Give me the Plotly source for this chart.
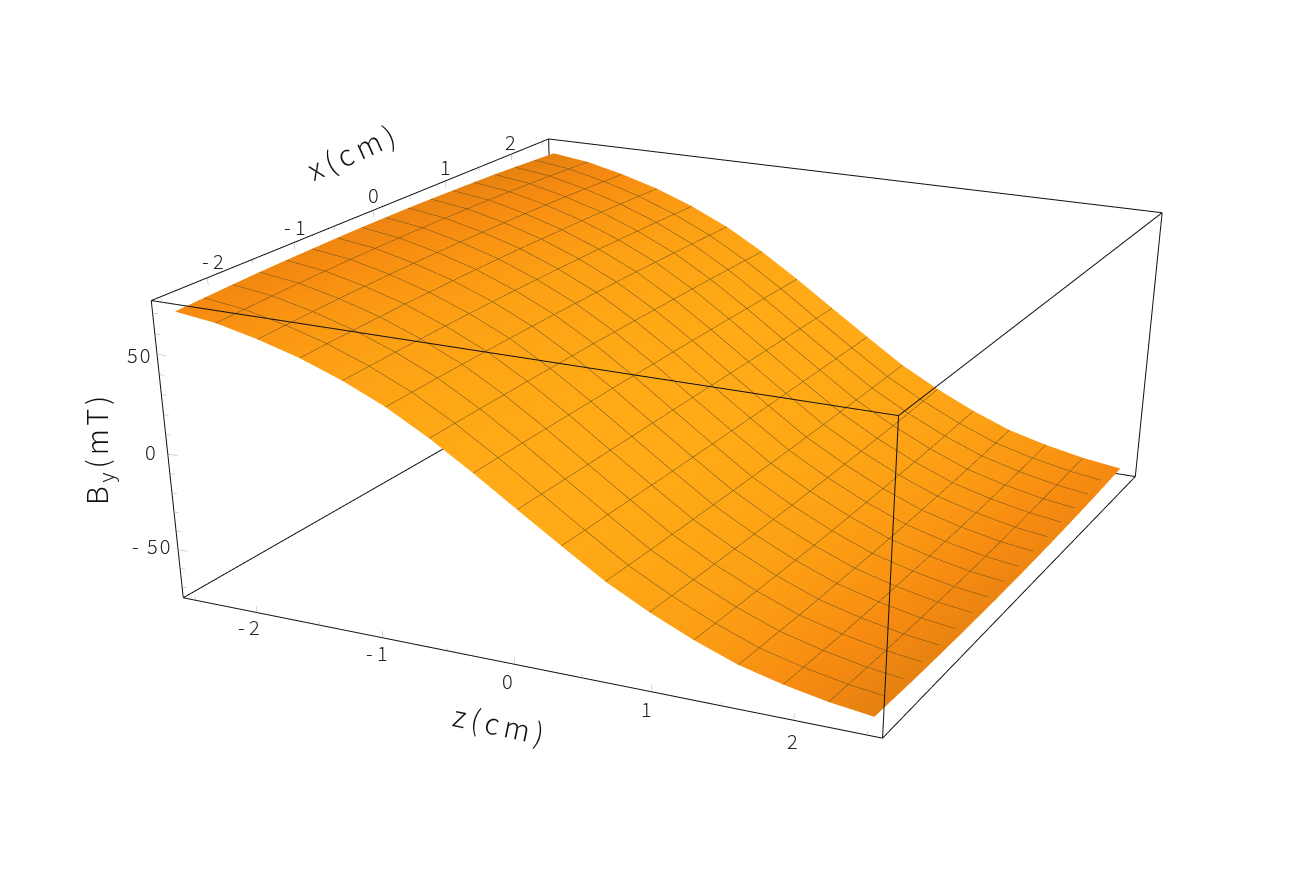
import numpy as np
import plotly.graph_objects as go

# grid of the surface, cm
z_cm = [-2.5, -2.1875, -1.875, -1.5625, -1.25, -0.9375, -0.625, -0.3125, 0, 0.3125, 0.625, 0.9375, 1.25, 1.5625, 1.875, 2.1875, 2.5]
x_cm = [-2.5, -2.1875, -1.875, -1.5625, -1.25, -0.9375, -0.625, -0.3125, 0, 0.3125, 0.625, 0.9375, 1.25, 1.5625, 1.875, 2.1875, 2.5]

# By (mT), one row per x value
by_x8 = [69.8, 67.2, 62.5, 56.6, 48.9, 39.5, 27.7, 14.3, 0, -14.1, -27.9, -39.2, -49.0, -57.2, -62.7, -67.0, -69.9]
by_x7 = [70.5, 67.9, 63.2, 57.2, 49.4, 39.9, 28.0, 14.5, 0, -14.3, -28.2, -39.6, -49.5, -57.8, -63.4, -67.7, -70.6]
by_x6 = [71.2, 68.6, 63.8, 57.7, 49.9, 40.3, 28.3, 14.6, 0, -14.4, -28.5, -40.0, -50.0, -58.3, -64.0, -68.4, -71.3]
by_x5 = [71.8, 69.1, 64.3, 58.2, 50.2, 40.6, 28.5, 14.7, 0, -14.5, -28.7, -40.3, -50.3, -58.8, -64.5, -68.9, -71.8]
by_x4 = [72.2, 69.5, 64.7, 58.6, 50.6, 40.9, 28.7, 14.8, 0, -14.6, -28.9, -40.6, -50.7, -59.2, -64.9, -69.3, -72.2]
by_x3 = [72.5, 69.9, 65.0, 58.8, 50.8, 41.1, 28.8, 14.9, 0, -14.7, -29.0, -40.8, -50.9, -59.4, -65.2, -69.7, -72.6]
by_x2 = [72.8, 70.1, 65.2, 59.0, 51.0, 41.2, 28.9, 15.0, 0, -14.8, -29.1, -40.9, -51.1, -59.6, -65.4, -69.9, -72.8]
by_x1 = [73.0, 70.2, 65.3, 59.2, 51.1, 41.3, 29.0, 15.0, 0, -14.8, -29.2, -41.0, -51.2, -59.8, -65.6, -70.1, -73.0]
by_x0 = [73.0, 70.3, 65.4, 59.2, 51.1, 41.3, 29.0, 15.0, 0, -14.8, -29.2, -41.0, -51.2, -59.8, -65.6, -70.1, -73.0]
by_rows = [by_x8, by_x7, by_x6, by_x5, by_x4, by_x3, by_x2, by_x1, by_x0,
           by_x1, by_x2, by_x3, by_x4, by_x5, by_x6, by_x7, by_x8]

z_ticks = [-2, -1, 0, 1, 2]
x_ticks = [-2, -1, 0, 1, 2]
by_ticks = [-50, 0, 50]
z_minor = [-2.5, -1.5, -0.5, 0.5, 1.5, 2.5]
x_minor = [-2.5, -1.5, -0.5, 0.5, 1.5, 2.5]
by_minor = [-70, -60, -40, -30, -20, -10, 10, 20, 30, 40, 60, 70]
tick_text = {-2: '- 2', -1: '- 1', 0: '0', 1: '1', 2: '2',
             -50: '<span style="letter-spacing:2px">- 50</span>', 50: '<span style="letter-spacing:2px">50</span>'}

XR, ZR = 2.6, 76
FIG_W, FIG_H = 1500, 2071
FONT = 'Noto Sans CJK JP'
TICK_FONT = dict(family=FONT, size=20, color='#222', weight=300)
TITLE_FONT = dict(family=FONT, size=29, color='#111', weight=300)
MESH = 'rgb(105,80,25)'

# shading, brighter on the slope and darker on the flat ends
u = np.array(z_cm) / 2.5
v = np.array(x_cm) / 2.5
uu, vv = np.meshgrid(u, v)
shade = 1 - 0.55 * uu**2 - 0.3 * uu**2 * (0.5 - 0.5 * np.sign(uu) * vv)

fig = go.Figure()
fig.add_trace(go.Surface(
    x=z_cm, y=x_cm, z=by_rows, surfacecolor=shade, cmin=0, cmax=1, showscale=False,
    colorscale=[[0, '#DC7C10'], [0.5, '#F78B11'], [1, '#FFAA16']],
    lighting=dict(ambient=1, diffuse=0, specular=0, fresnel=0, roughness=1),
    contours=dict(
        x=dict(show=True, start=-2.5, end=2.5, size=0.3125, color=MESH, width=1),
        y=dict(show=True, start=-2.5, end=2.5, size=0.3125, color=MESH, width=1),
        z=dict(show=False)),
    hoverinfo='skip'))

# bounding box
box_x, box_y, box_z = [], [], []
for a, b in [((-1,-1,1),(1,-1,1)),((1,-1,1),(1,1,1)),((1,1,1),(-1,1,1)),((-1,1,1),(-1,-1,1)),
             ((-1,-1,-1),(1,-1,-1)),((1,-1,-1),(1,1,-1)),((1,1,-1),(-1,1,-1)),((-1,1,-1),(-1,-1,-1)),
             ((-1,-1,-1),(-1,-1,1)),((1,-1,-1),(1,-1,1)),((1,1,-1),(1,1,1)),((-1,1,-1),(-1,1,1))]:
    box_x += [a[0]*XR, b[0]*XR, None]
    box_y += [a[1]*XR, b[1]*XR, None]
    box_z += [a[2]*ZR, b[2]*ZR, None]
fig.add_trace(go.Scatter3d(x=box_x, y=box_y, z=box_z, mode='lines', line=dict(color='#111', width=2), hoverinfo='skip'))

# tick marks
tx, ty, tz = [], [], []
for t, size in [(t, 3.6) for t in z_ticks] + [(t, 2.0) for t in z_minor]:
    tx += [t, t, None]; ty += [-XR, -XR, None]; tz += [-ZR, -ZR + size, None]
for t, size in [(t, 3.6) for t in x_ticks] + [(t, 2.0) for t in x_minor]:
    tx += [-XR, -XR, None]; ty += [t, t, None]; tz += [ZR, ZR - size, None]
for t, size in [(t, 0.075) for t in by_ticks] + [(t, 0.04) for t in by_minor]:
    tx += [-XR, -XR + size, None]; ty += [-XR, -XR, None]; tz += [t, t, None]
fig.add_trace(go.Scatter3d(x=tx, y=ty, z=tz, mode='lines', line=dict(color='#aaa', width=1), hoverinfo='skip'))

# label offsets in pixels from the axis edge
z_shift = {-2: (-8, -14), -1: (-6, -15), 0: (-7, -16), 1: (-5, -17), 2: (-1, -20)}
x_shift = {-2: (5, 17), -1: (1, 16), 0: (0, 16), 1: (0, 14), 2: (-1, 13)}
by_shift = {50: (-18, 0), 0: (-17, 2), -50: (-26, 4)}
labels = []
for t in z_ticks:
    labels.append(dict(x=t, y=-XR, z=-ZR, text=tick_text[t], xshift=z_shift[t][0], yshift=z_shift[t][1]))
for t in x_ticks:
    labels.append(dict(x=-XR, y=t, z=ZR, text=tick_text[t], xshift=x_shift[t][0], yshift=x_shift[t][1]))
for t in by_ticks:
    labels.append(dict(x=-XR, y=-XR, z=t, text=tick_text[t], xshift=by_shift[t][0], yshift=by_shift[t][1]))
for lab in labels:
    lab.update(showarrow=False, font=TICK_FONT)

def title(text, u_px, v_px, angle):
    return dict(text=text, x=(u_px - 8) / FIG_W, y=1 - (v_px - 8) / FIG_H, xref='paper', yref='paper',
                xanchor='center', yanchor='middle', showarrow=False, textangle=angle, font=TITLE_FONT)

fig.update_layout(
    width=FIG_W, height=FIG_H, margin=dict(l=0, r=0, t=0, b=0), showlegend=False,
    paper_bgcolor='white',
    annotations=[
        title('<span style="letter-spacing:5px">x(cm)</span>', 352, 150, -24),
        title('<span style="letter-spacing:5px">z(cm)</span>', 501, 723, 12),
        title('<span style="letter-spacing:4px">B<sub>y</sub>(mT)</span>', 97, 449, -90),
    ],
    scene=dict(
        dragmode='orbit', domain=dict(x=[0, 1], y=[0, 1]), aspectmode='manual',
        aspectratio=dict(x=1, y=1.055, z=0.393),
        camera=dict(eye=dict(x=1.450, y=-3.101, z=1.063), center=dict(x=0.347, y=-0.528, z=-0.667),
                    up=dict(x=-0.021, y=0, z=1), projection=dict(type='perspective')),
        xaxis=dict(range=[-XR, XR], visible=False),
        yaxis=dict(range=[-XR, XR], visible=False),
        zaxis=dict(range=[-ZR, ZR], visible=False),
        annotations=labels))

fig.write_html("out.html")
